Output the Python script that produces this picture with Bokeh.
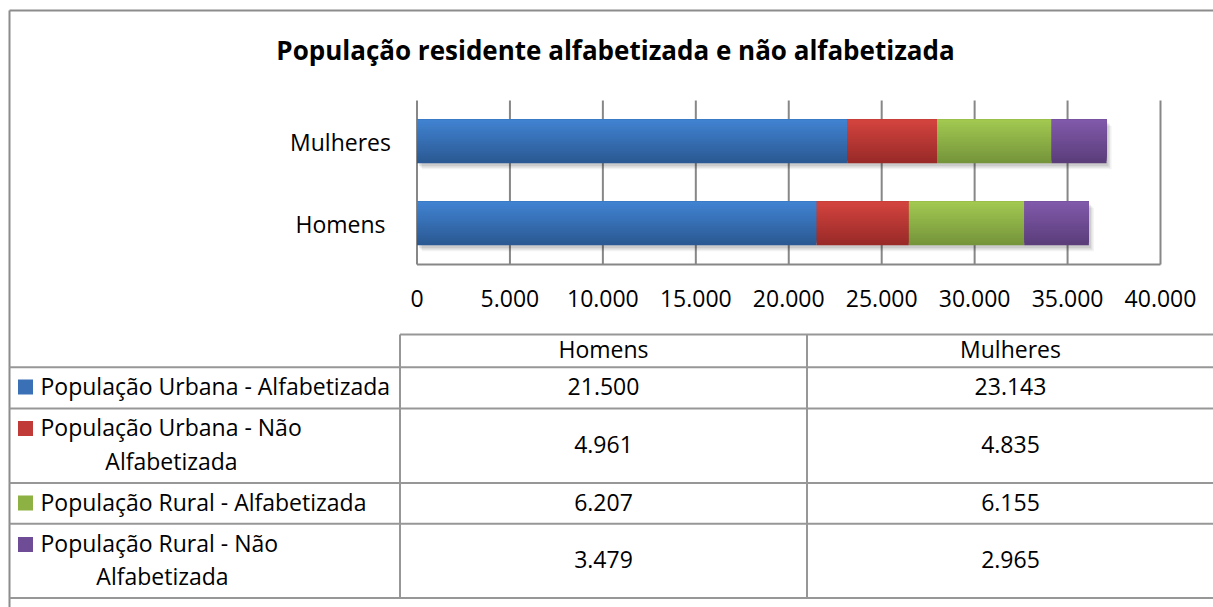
import numpy as np
from bokeh.plotting import figure
from bokeh.models import ColumnDataSource, Range1d
from bokeh.transform import dodge
from bokeh.embed import file_html
from bokeh.resources import INLINE
from bokeh.core.properties import value

# ---------------- data ----------------
title = "População residente alfabetizada e não alfabetizada"
categories = ["Homens", "Mulheres"]
series = ["População Urbana - Alfabetizada",
          "População Urbana - Não Alfabetizada",
          "População Rural - Alfabetizada",
          "População Rural  - Não Alfabetizada"]
series_lines = [["População Urbana - Alfabetizada"],
                ["População Urbana - Não", "Alfabetizada"],
                ["População Rural - Alfabetizada"],
                ["População Rural  - Não", "Alfabetizada"]]
homens = [21500, 4961, 6207, 3479]
mulheres = [23143, 4835, 6155, 2965]
x_ticks = [0, 5000, 10000, 15000, 20000, 25000, 30000, 35000, 40000]
x_min, x_max = 0, 40000

# ---------------- style / layout (page pixels) ----------------
FONT = "Open Sans"
FS = "23px"
colors_top = ["#4183d2", "#d4443f", "#a3c951", "#815aab"]
colors_bottom = ["#2a5891", "#972927", "#74933a", "#5a3c79"]
swatch = ["#3a70b6", "#c03b38", "#8db243", "#6e4c96"]
GRID = "#878787"
LINE = "#979797"
BORDER = "#8c8c8c"

W, Hh = 1213, 607
PL, PR, PT, PB = 0, W, 0, Hh                   # page extents of the canvas
FX0, FX1 = 416.5, 1160.0                       # plot area x (page)
FY0, FY1 = 100.0, 264.0                        # plot area y (page)
CAT_PX = (FY1 - FY0) / len(categories)
BAR_H = 0.53

s = (FX1 - FX0) / (x_max - x_min)
val_range = Range1d(x_min - (FX0 - PL) / s, x_max + (PR - FX1) / s)
c0 = FY1 - CAT_PX / 2                          # page y of category index 0
cat_range = Range1d(-(PB - c0) / CAT_PX, (c0 - PT) / CAT_PX)

p = figure(width=W, height=Hh, x_range=Range1d(PL, PR), y_range=Range1d(PB, PT),
           x_axis_type=None, y_axis_type=None, output_backend="svg",
           toolbar_location=None, min_border=0)
p.extra_x_ranges = {"val": val_range}
p.extra_y_ranges = {"cat": cat_range}
p.outline_line_color = None
p.background_fill_color = "white"
p.border_fill_color = "white"

def mix(c1, c2, t):
    a = [int(c1[i:i + 2], 16) for i in (1, 3, 5)]
    b = [int(c2[i:i + 2], 16) for i in (1, 3, 5)]
    return "#%02x%02x%02x" % tuple(int(round(a[k] + (b[k] - a[k]) * t)) for k in range(3))

# ---- title ----
p.text(x=[615], y=[49], text=[title], text_align="center", text_baseline="middle",
       text_font=value(FONT), text_font_size="26px", text_font_style="bold", text_color="#000000")

# ---- outer border ----
p.segment(x0=[9, 9], x1=[9, PR], y0=[10, 10], y1=[PB, 10], line_color=BORDER, line_width=2)

# ---- gridlines & axis lines (value scale) ----
p.segment(x0=x_ticks, x1=x_ticks, y0=[FY0] * len(x_ticks), y1=[FY1] * len(x_ticks),
          x_range_name="val", line_color=GRID, line_width=2)
p.segment(x0=[x_min], x1=[x_max], y0=[FY1], y1=[FY1], x_range_name="val",
          line_color=GRID, line_width=2)

# ---- bars ----
vals_by_cat = [homens, mulheres]
cy, left_col, right_col, sidx = [], [], [], []
tot_y, tot_val = [], []
for ci, vals in enumerate(vals_by_cat):
    cum = np.cumsum([0] + list(vals))
    for i in range(len(vals)):
        cy.append(ci)
        left_col.append(float(cum[i]))
        right_col.append(float(cum[i + 1]))
        sidx.append(i)
    tot_y.append(ci)
    tot_val.append(float(cum[-1]))

# soft shadow
for dx_px, dy_px, a in [(5.0, 6.0, 0.05), (3.5, 4.5, 0.07), (2.0, 3.0, 0.09)]:
    dx = dx_px / s
    ssrc = ColumnDataSource(dict(y=tot_y, left=[dx] * len(tot_val), right=[v + dx for v in tot_val]))
    p.hbar(y=dodge("y", -dy_px / CAT_PX), left="left", right="right", height=BAR_H,
           source=ssrc, fill_color="black", fill_alpha=a, line_color=None,
           x_range_name="val", y_range_name="cat")

# vertical gradient: nested bands from the top edge, darkest (full) first
N = 18
for k in range(N - 1, -1, -1):
    t = (k + 0.5) / N
    hk = (k + 1) * BAR_H / N
    off = BAR_H / 2 - hk / 2
    src = ColumnDataSource(dict(y=cy, left=left_col, right=right_col,
                                color=[mix(colors_top[si], colors_bottom[si], t) for si in sidx]))
    p.hbar(y=dodge("y", off), left="left", right="right", height=hk, source=src,
           fill_color="color", line_color=None, x_range_name="val", y_range_name="cat")

# ---- axis labels ----
tick_text = [f"{t:,}".replace(",", ".") for t in x_ticks]
p.text(x=x_ticks, y=[297.5] * len(x_ticks), text=tick_text, x_range_name="val",
       text_align="center", text_baseline="middle", text_font=value(FONT),
       text_font_size=FS, text_color="#000000")
p.text(x=[340] * len(categories), y=list(range(len(categories))), text=categories,
       y_range_name="cat", text_align="center", text_baseline="middle",
       text_font=value(FONT), text_font_size=FS, text_color="#000000")

# ---------------- data table ----------------
row_lines = [366.7, 408, 482.5, 523.3, 597.5]
p.segment(x0=[9] * len(row_lines), x1=[PR] * len(row_lines), y0=row_lines, y1=row_lines,
          line_color=LINE, line_width=2)
p.segment(x0=[399.5, 399.5, 806.5], x1=[PR, 399.5, 806.5], y0=[334, 334, 334],
          y1=[334, 597.5, 597.5], line_color=LINE, line_width=2)

col_x = [603, 1010]
row_y = [385.5, 443.5, 501.5, 559]
p.text(x=col_x, y=[348.5, 348.5], text=categories, text_align="center", text_baseline="middle",
       text_font=value(FONT), text_font_size=FS, text_color="#000000")

vx, vy, vt = [], [], []
for ci, vals in enumerate(vals_by_cat):
    for ri, v in enumerate(vals):
        vx.append(col_x[ci])
        vy.append(row_y[ri])
        vt.append(f"{v:,}".replace(",", "."))
p.text(x=vx, y=vy, text=vt, text_align="center", text_baseline="middle",
       text_font=value(FONT), text_font_size=FS, text_color="#000000")

first_y = [385, 426.5, 501, 542.5]
second_y = [None, 460.5, None, 575.5]
second_x = [None, 171, None, 162]
l1x, l1y, l1t, l2x, l2y, l2t = [], [], [], [], [], []
for i, lines in enumerate(series_lines):
    l1x.append(40); l1y.append(first_y[i]); l1t.append(lines[0])
    if len(lines) > 1:
        l2x.append(second_x[i]); l2y.append(second_y[i]); l2t.append(lines[1])
p.text(x=l1x, y=l1y, text=l1t, text_align="left", text_baseline="middle",
       text_font=value(FONT), text_font_size=FS, text_color="#000000")
p.text(x=l2x, y=l2y, text=l2t, text_align="center", text_baseline="middle",
       text_font=value(FONT), text_font_size=FS, text_color="#000000")
sw_y = [386.5, 428, 502.5, 544]
p.rect(x=[25] * len(series), y=sw_y, width=15, height=15, width_units="screen",
       height_units="screen", fill_color=swatch, line_color=None)

open("out.html", "w").write(file_html(p, INLINE))
